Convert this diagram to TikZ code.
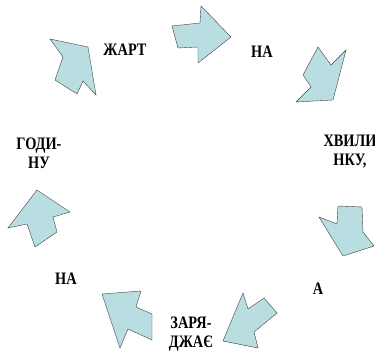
\documentclass[tikz,border=0pt]{standalone}
\usepackage{fontspec}
\setmainfont[FakeStretch=0.82]{Liberation Serif}
\definecolor{arrowfill}{RGB}{184,222,226}
\begin{document}
\begin{tikzpicture}[x=1pt,y=-1pt,thin,block arrow/.style={draw=black!75,fill=arrowfill,line join=miter},word node/.style={font=\bfseries\fontsize{17.5}{19}\selectfont,align=center,inner sep=0pt}]%
\useasboundingbox (0,0) rectangle (375,361);
\begin{scope}[every node/.style={word node}]
\node (w1) at (125,50) {ЖАРТ};
\node (w2) at (262,52) {НА};
\node (w3) at (350,152) {ХВИЛИ\\НКУ,};
\node (w4) at (318,289) {А};
\node (w5) at (191,334) {ЗАРЯ-\\ДЖАЄ};
\node (w6) at (66,279) {НА};
\node (w7) at (39,153) {ГОДИ-\\НУ};
\end{scope}
\begin{scope}[every path/.style={block arrow}]
\draw (50,39) -- (88,47) -- (96,95) -- (83,81) -- (77,94) -- (55,80) -- (63,57) -- cycle;
\draw (172,26) -- (200,23) -- (201,6) -- (231,37) -- (198,63) -- (198,47) -- (178,48) -- cycle;
\draw (318,47) -- (331,65) -- (346,50) -- (333,100) -- (296,102) -- (311,87) -- (303,75) -- cycle;
\draw (338,206) -- (362,207) -- (363,232) -- (374,246) -- (343,256) -- (319,217) -- (337,224) -- cycle;
\draw (243,293) -- (248,309) -- (264,298) -- (277,313) -- (254,332) -- (258,348) -- (223,341) -- cycle;
\draw (102,294) -- (141,291) -- (136,307) -- (152,314) -- (152,340) -- (128,329) -- (120,348) -- cycle;
\draw (37,190) -- (70,212) -- (53,217) -- (57,232) -- (35,247) -- (27,224) -- (8,228) -- cycle;
\end{scope}
\end{tikzpicture}
\end{document}
